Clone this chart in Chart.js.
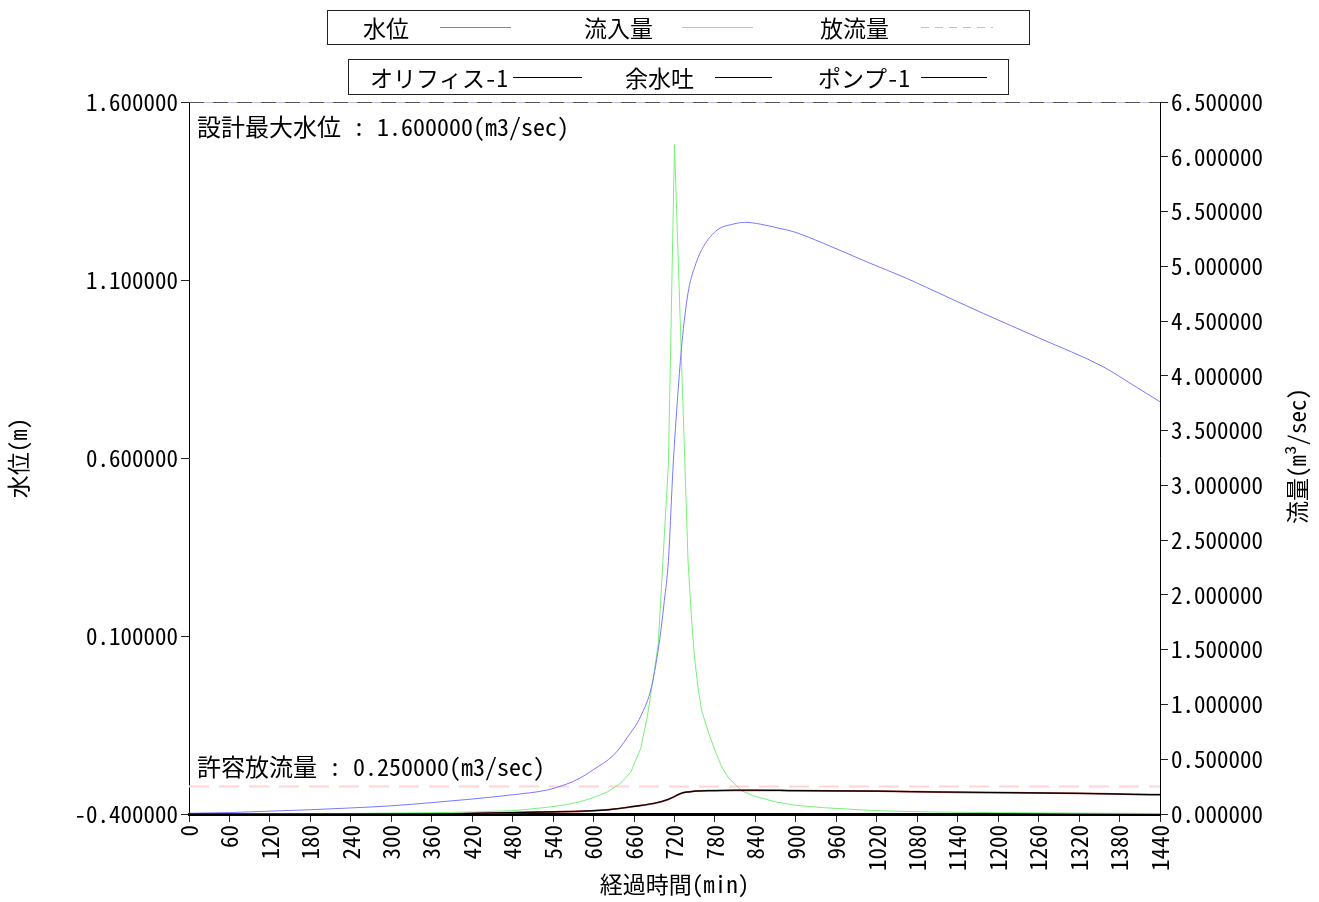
<!DOCTYPE html>
<html lang="ja">
<head>
<meta charset="utf-8">
<title>水位・流量</title>
<script src="https://cdn.jsdelivr.net/npm/chart.js@4.4.1/dist/chart.umd.min.js"></script>
<style>
  body { margin: 0; background: #fff; }
  #wrap { position: relative; width: 1319px; height: 902px; }
  canvas { position: absolute; left: 0; top: 0; }
  .box { position: absolute; border: 1px solid #222; box-sizing: border-box; }
  .lbl { position: absolute; font-size: 23px; line-height: 23px; color: #000; white-space: nowrap;
         font-family: "Noto Sans Mono CJK JP", "Noto Sans CJK JP", monospace; }
  .ln { position: absolute; height: 1px; }
  .dash { background: repeating-linear-gradient(90deg, #ffa8a8 0 8px, transparent 8px 14px); }
</style>
</head>
<body>
<div id="wrap">
  <canvas id="chart" width="1319" height="902"></canvas>

  <div class="box" style="left:327px;top:10px;width:703px;height:35px"></div>
  <div class="lbl" style="left:363px;top:16px">水位</div>
  <div class="ln" style="left:440px;top:27px;width:71px;background:#7878ff"></div>
  <div class="lbl" style="left:584px;top:16px">流入量</div>
  <div class="ln" style="left:682px;top:27px;width:71px;background:#78f078"></div>
  <div class="lbl" style="left:820px;top:16px">放流量</div>
  <div class="ln dash" style="left:921px;top:27px;width:72px"></div>

  <div class="box" style="left:348px;top:59px;width:661px;height:36px"></div>
  <div class="lbl" style="left:370px;top:66px">オリフィス-1</div>
  <div class="ln" style="left:513px;top:77px;width:69px;background:#000"></div>
  <div class="lbl" style="left:625px;top:66px">余水吐</div>
  <div class="ln" style="left:715px;top:77px;width:57px;background:#000"></div>
  <div class="lbl" style="left:818px;top:66px">ポンプ-1</div>
  <div class="ln" style="left:921px;top:77px;width:66px;background:#000"></div>
</div>

<script>
const FONT = '"Noto Sans Mono CJK JP", "Noto Sans CJK JP", monospace';

// axis ticks
const timeTicks = [0, 60, 120, 180, 240, 300, 360, 420, 480, 540, 600, 660, 720, 780, 840, 900, 960, 1020, 1080, 1140, 1200, 1260, 1320, 1380, 1440];
const levelTicks = [-0.4, 0.1, 0.6, 1.1, 1.6];
const flowTicks = [0, 0.5, 1, 1.5, 2, 2.5, 3, 3.5, 4, 4.5, 5, 5.5, 6, 6.5];

// 水位 (m)
const levelTime = [0, 60, 120, 180, 240, 300, 360, 420, 480, 530, 560, 580, 600, 630, 650, 670, 686, 698, 705, 711, 718, 725, 731, 740, 750, 763, 783, 807, 825, 847, 876, 896, 941, 1005, 1064, 1094, 1178, 1262, 1356, 1400, 1440];
const levelValue = [-0.398, -0.396, -0.392, -0.388, -0.383, -0.377, -0.368, -0.358, -0.346, -0.333, -0.316, -0.299, -0.275, -0.234, -0.185, -0.125, -0.042, 0.09, 0.2, 0.313, 0.58, 0.78, 0.922, 1.063, 1.137, 1.194, 1.240, 1.257, 1.262, 1.257, 1.245, 1.236, 1.203, 1.151, 1.105, 1.079, 1.006, 0.936, 0.856, 0.805, 0.758];

// 流入量 (m3/sec)
const inflowTime = [0, 120, 240, 360, 420, 480, 530, 560, 580, 600, 620, 640, 655, 670, 680, 690, 696, 700, 705, 711, 720, 740, 745, 750, 755, 760, 770, 780, 790, 800, 820, 840, 870, 900, 940, 1020, 1100, 1200, 1320, 1440];
const inflowValue = [0, 0.002, 0.005, 0.012, 0.018, 0.03, 0.06, 0.085, 0.112, 0.15, 0.2, 0.28, 0.38, 0.6, 0.9, 1.3, 1.56, 2.0, 2.55, 3.2, 6.11, 2.32, 1.8, 1.41, 1.15, 0.95, 0.75, 0.58, 0.43, 0.33, 0.21, 0.16, 0.11, 0.08, 0.058, 0.03, 0.018, 0.012, 0.008, 0.005];

// 放流量 / オリフィス-1 (m3/sec)
const outflowTime = [0, 360, 420, 480, 540, 580, 630, 660, 690, 710, 720, 730, 750, 780, 810, 840, 900, 1020, 1110, 1210, 1320, 1400, 1440];
const outflowValue = [0, 0, 0.005, 0.012, 0.02, 0.025, 0.045, 0.07, 0.098, 0.132, 0.16, 0.189, 0.208, 0.214, 0.217, 0.217, 0.213, 0.209, 0.201, 0.195, 0.189, 0.180, 0.176];

const designMaxLevel = 1.6;   // 設計最大水位
const allowFlow = 0.25;       // 許容放流量

function pts(xs, ys) { return xs.map((x, i) => ({ x: x, y: ys[i] })); }
const flat = v => [{ x: 0, y: v }, { x: 1440, y: v }];

const overlay = {
  id: 'overlay',
  afterDraw(chart) {
    const ctx = chart.ctx;
    ctx.save();
    ctx.fillStyle = '#000';
    ctx.font = '24px ' + FONT;
    ctx.textBaseline = 'middle';
    ctx.textAlign = 'left';
    ctx.fillText('設計最大水位 : ' + designMaxLevel.toFixed(6) + '(m3/sec)', 197, 127);
    ctx.fillText('許容放流量 : ' + allowFlow.toFixed(6) + '(m3/sec)', 197, 767);
    ctx.font = '23px ' + FONT;
    ctx.translate(1297, 456);
    ctx.rotate(-Math.PI / 2);
    ctx.textAlign = 'center';
    ctx.fillText('流量(m³/sec)', 0, 0);
    ctx.restore();
  }
};

const axisGrid = { display: true, drawOnChartArea: false, drawTicks: true, tickLength: 8, color: '#222' };

new Chart(document.getElementById('chart'), {
  type: 'line',
  data: {
    datasets: [
      { label: 'オリフィス-1', data: pts(outflowTime, outflowValue), yAxisID: 'y2', borderColor: '#000', borderWidth: 1.2, order: 0, cubicInterpolationMode: 'monotone' },
      { label: '設計最大水位', data: flat(designMaxLevel), yAxisID: 'y', borderColor: '#333', borderWidth: 1.5, borderDash: [15, 9], order: 1 },
      { label: '設計最大水位b', data: flat(designMaxLevel), yAxisID: 'y', borderColor: '#a8a8e8', borderWidth: 1.5, order: 2 },
      { label: '放流量', data: pts(outflowTime, outflowValue), yAxisID: 'y2', borderColor: '#b04040', borderWidth: 1.8, order: 3, cubicInterpolationMode: 'monotone' },
      { label: '水位', data: pts(levelTime, levelValue), yAxisID: 'y', borderColor: '#7878ff', borderWidth: 1, order: 4, cubicInterpolationMode: 'monotone' },
      { label: '流入量', data: pts(inflowTime, inflowValue), yAxisID: 'y2', borderColor: '#78f078', borderWidth: 1, order: 5 },
      { label: '許容放流量', data: flat(allowFlow), yAxisID: 'y2', borderColor: '#ffd4d4', borderWidth: 2, borderDash: [20, 10], order: 9 }
    ]
  },
  options: {
    responsive: false,
    animation: false,
    devicePixelRatio: 1,
    layout: { padding: { top: 102, left: 0, right: 0, bottom: 0 } },
    elements: { point: { radius: 0 }, line: { tension: 0 } },
    plugins: { legend: { display: false }, tooltip: { enabled: false } },
    font: { family: FONT, size: 23 },
    scales: {
      x: {
        type: 'linear', min: 0, max: 1440,
        afterFit: s => { s.height = 88; },
        afterBuildTicks: s => { s.ticks = timeTicks.map(v => ({ value: v })); },
        ticks: { autoSkip: false, minRotation: 90, maxRotation: 90, padding: 3, color: '#000', font: { family: FONT, size: 23 }, callback: v => String(v) },
        grid: axisGrid,
        border: { display: true, color: '#000', width: 3 },
        title: { display: true, text: '経過時間(min)', color: '#000', font: { family: FONT, size: 23 }, padding: { top: 4, bottom: 4 } }
      },
      y: {
        position: 'left', min: -0.4, max: 1.6,
        afterFit: s => { s.width = 189; },
        afterBuildTicks: s => { s.ticks = levelTicks.map(v => ({ value: v })); },
        ticks: { padding: 3, color: '#000', font: { family: FONT, size: 23 }, callback: v => v.toFixed(6) },
        grid: axisGrid,
        border: { display: true, color: '#000', width: 1 },
        title: { display: true, text: '水位(m)', color: '#000', font: { family: FONT, size: 23 }, padding: { top: 4, bottom: 4 } }
      },
      y2: {
        position: 'right', min: 0, max: 6.5,
        afterFit: s => { s.width = 159; },
        afterBuildTicks: s => { s.ticks = flowTicks.map(v => ({ value: v })); },
        ticks: { padding: 3, color: '#000', font: { family: FONT, size: 23 }, callback: v => v.toFixed(6) },
        grid: axisGrid,
        border: { display: true, color: '#000', width: 1 }
      }
    }
  },
  plugins: [overlay]
});
</script>
</body>
</html>
